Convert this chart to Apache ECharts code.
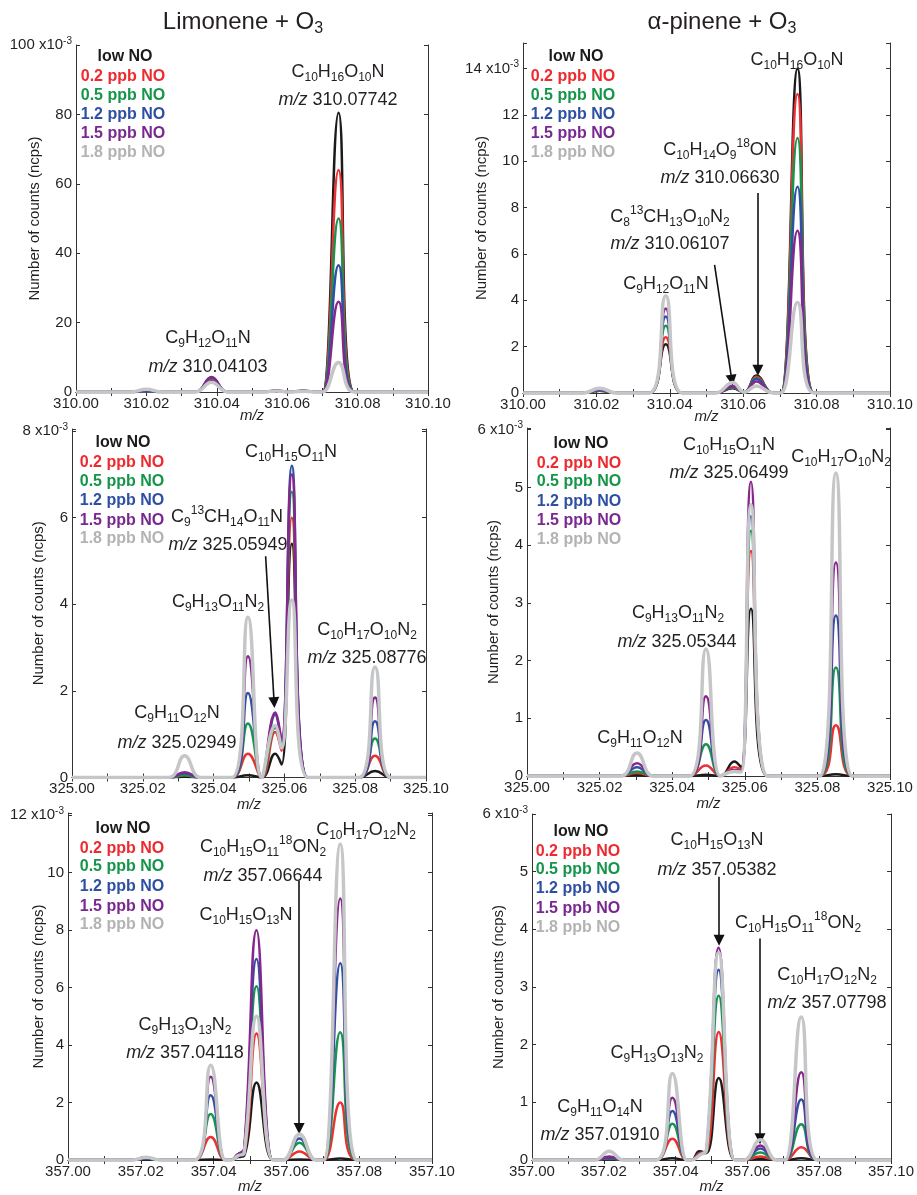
<!DOCTYPE html>
<html><head><meta charset="utf-8">
<script src="https://cdn.jsdelivr.net/npm/echarts@6/dist/echarts.min.js"></script>
<style>html,body{margin:0;padding:0;background:#fff}#c{width:917px;height:1195px}</style>
</head><body><div id="c"></div>
<script>
// ---------------- DATA ----------------
const seriesNames = ['low NO', '0.2 ppb NO', '0.5 ppb NO', '1.2 ppb NO', '1.5 ppb NO', '1.8 ppb NO'];

// Limonene + O3, m/z 310
const mzLim310 = [310.000, 310.0155, 310.0200, 310.0245, 310.0340, 310.0385, 310.0430, 310.0530, 310.0570, 310.0605, 310.0645, 310.0685, 310.0701, 310.0746, 310.0791, 310.100];
const lim310Low  = [0, 0, 0.2, 0, 0, 3.5, 0, 0, 0.2, 0, 0.3, 0, 0, 80.5, 0, 0];
const lim310N02  = [0, 0, 0.2, 0, 0, 3.8, 0, 0, 0.2, 0, 0.3, 0, 0, 64, 0, 0];
const lim310N05  = [0, 0, 0.2, 0, 0, 4.0, 0, 0, 0.3, 0, 0.3, 0, 0, 50, 0, 0];
const lim310N12  = [0, 0, 0.3, 0, 0, 4.2, 0, 0, 0.3, 0, 0.3, 0, 0, 36.5, 0, 0];
const lim310N15  = [0, 0, 0.5, 0, 0, 4.3, 0, 0, 0.5, 0, 0.4, 0, 0, 26, 0, 0];
const lim310N18  = [0, 0, 0.8, 0, 0, 2.8, 0, 0, 0.3, 0, 0.2, 0, 0, 8.5, 0, 0];

// alpha-pinene + O3, m/z 310
const mzPin310 = [310.000, 310.0164, 310.0209, 310.0254, 310.0344, 310.0389, 310.0434, 310.0526, 310.0571, 310.0603, 310.0636, 310.0681, 310.0703, 310.0748, 310.0793, 310.100];
const pin310Low  = [0, 0, 0.10, 0, 0, 2.1, 0, 0, 0.20, 0.03, 0.75, 0, 0, 14.0, 0, 0];
const pin310N02  = [0, 0, 0.10, 0, 0, 2.4, 0, 0, 0.25, 0.03, 0.70, 0, 0, 12.9, 0, 0];
const pin310N05  = [0, 0, 0.10, 0, 0, 2.9, 0, 0, 0.25, 0.03, 0.65, 0, 0, 11.0, 0, 0];
const pin310N12  = [0, 0, 0.12, 0, 0, 3.3, 0, 0, 0.28, 0.03, 0.60, 0, 0, 8.9, 0, 0];
const pin310N15  = [0, 0, 0.15, 0, 0, 3.65, 0, 0, 0.30, 0.03, 0.50, 0, 0, 7.0, 0, 0];
const pin310N18  = [0, 0, 0.20, 0, 0, 4.2, 0, 0, 0.45, 0.03, 0.30, 0, 0, 3.9, 0, 0];

// Limonene + O3, m/z 325
const mzLim325 = [325.000, 325.0273, 325.0318, 325.0363, 325.0452, 325.0497, 325.0536, 325.0574, 325.0592, 325.0621, 325.0666, 325.0811, 325.0856, 325.0901, 325.100];
const lim325Low  = [0, 0, 0.02, 0, 0, 0.05, 0, 0.55, 0.30, 5.4, 0, 0, 0.15, 0, 0];
const lim325N02  = [0, 0, 0.05, 0, 0, 0.55, 0, 1.05, 0.62, 6.0, 0, 0, 0.50, 0, 0];
const lim325N05  = [0, 0, 0.05, 0, 0, 1.25, 0, 1.15, 0.70, 6.6, 0, 0, 0.90, 0, 0];
const lim325N12  = [0, 0, 0.10, 0, 0, 1.95, 0, 1.45, 0.82, 7.2, 0, 0, 1.30, 0, 0];
const lim325N15  = [0, 0, 0.12, 0, 0, 2.80, 0, 1.50, 0.87, 7.0, 0, 0, 1.85, 0, 0];
const lim325N18  = [0, 0, 0.50, 0, 0, 3.70, 0, 1.20, 0.68, 4.1, 0, 0, 2.55, 0, 0];

// alpha-pinene + O3, m/z 325
const mzPin325 = [325.000, 325.0258, 325.0303, 325.0348, 325.0448, 325.0493, 325.0533, 325.0571, 325.0590, 325.0617, 325.0662, 325.0806, 325.0851, 325.0896, 325.100];
const pin325Low  = [0, 0, 0.02, 0, 0, 0.02, 0, 0.25, 0.15, 2.9, 0, 0, 0.03, 0, 0];
const pin325N02  = [0, 0, 0.05, 0, 0, 0.18, 0, 0.15, 0.12, 3.9, 0, 0, 0.88, 0, 0];
const pin325N05  = [0, 0, 0.08, 0, 0, 0.55, 0, 0.10, 0.08, 4.25, 0, 0, 1.88, 0, 0];
const pin325N12  = [0, 0, 0.15, 0, 0, 0.97, 0, 0.10, 0.08, 4.5, 0, 0, 2.78, 0, 0];
const pin325N15  = [0, 0, 0.22, 0, 0, 1.38, 0, 0.10, 0.08, 5.1, 0, 0, 3.70, 0, 0];
const pin325N18  = [0, 0, 0.40, 0, 0, 2.20, 0, 0.08, 0.07, 4.7, 0, 0, 5.25, 0, 0];

// Limonene + O3, m/z 357
const mzLim357 = [357.000, 357.0175, 357.0215, 357.0255, 357.0347, 357.0392, 357.0432, 357.0448, 357.0467, 357.0484, 357.0518, 357.0563, 357.0591, 357.0636, 357.0681, 357.0703, 357.0748, 357.0793, 357.100];
const lim357Low  = [0, 0, 0.03, 0, 0, 0.02, 0, 0, 0.10, 0.15, 2.7, 0, 0, 0.02, 0, 0, 0.05, 0, 0];
const lim357N02  = [0, 0, 0.05, 0, 0, 0.80, 0, 0, 0.20, 0.25, 4.4, 0, 0, 0.30, 0, 0, 2.00, 0, 0];
const lim357N05  = [0, 0, 0.05, 0, 0, 1.60, 0, 0, 0.20, 0.30, 6.05, 0, 0, 0.60, 0, 0, 4.45, 0, 0];
const lim357N12  = [0, 0, 0.05, 0, 0, 2.25, 0, 0, 0.20, 0.35, 7.0, 0, 0, 0.75, 0, 0, 6.85, 0, 0];
const lim357N15  = [0, 0, 0.08, 0, 0, 2.90, 0, 0, 0.20, 0.40, 8.0, 0, 0, 0.90, 0, 0, 9.10, 0, 0];
const lim357N18  = [0, 0, 0.10, 0, 0, 3.30, 0, 0, 0.15, 0.25, 5.0, 0, 0, 0.90, 0, 0, 11.0, 0, 0];

// alpha-pinene + O3, m/z 357
const mzPin357 = [357.000, 357.0175, 357.0215, 357.0255, 357.0346, 357.0391, 357.0431, 357.0445, 357.0466, 357.0486, 357.0520, 357.0565, 357.0591, 357.0636, 357.0681, 357.0705, 357.0750, 357.0795, 357.100];
const pin357Low  = [0, 0, 0.02, 0, 0, 0.03, 0, 0, 0.15, 0.12, 1.42, 0, 0, 0.02, 0, 0, 0.03, 0, 0];
const pin357N02  = [0, 0, 0.03, 0, 0, 0.37, 0, 0, 0.12, 0.14, 2.22, 0, 0, 0.06, 0, 0, 0.22, 0, 0];
const pin357N05  = [0, 0, 0.03, 0, 0, 0.63, 0, 0, 0.10, 0.15, 2.85, 0, 0, 0.13, 0, 0, 0.62, 0, 0];
const pin357N12  = [0, 0, 0.04, 0, 0, 0.85, 0, 0, 0.10, 0.16, 3.3, 0, 0, 0.20, 0, 0, 1.05, 0, 0];
const pin357N15  = [0, 0, 0.06, 0, 0, 1.08, 0, 0, 0.10, 0.17, 3.68, 0, 0, 0.25, 0, 0, 1.52, 0, 0];
const pin357N18  = [0, 0, 0.15, 0, 0, 1.50, 0, 0, 0.08, 0.18, 3.6, 0, 0, 0.35, 0, 0, 2.48, 0, 0];

// Axis tick settings (x10^-3)
const xRanges = [[310, 310.1], [310, 310.1], [325, 325.1], [325, 325.1], [357, 357.1], [357, 357.1]];
const yMaxes = [100, 15.1, 8.05, 6.03, 12.08, 6.0];
const yTopTicks = [100, 14, 8, 6, 12, 6];
const ySteps = [20, 2, 2, 1, 2, 1];

// Peak labels
const annTexts = [
  ['C_10H_16O_10N', 0], ['m/z 310.07742', 0], ['C_9H_12O_11N', 0], ['m/z 310.04103', 0],
  ['C_10H_16O_10N', 1], ['C_10H_14O_9^18ON', 1], ['m/z 310.06630', 1], ['C_8^13CH_13O_10N_2', 1], ['m/z 310.06107', 1], ['C_9H_12O_11N', 1],
  ['C_10H_15O_11N', 2], ['C_9^13CH_14O_11N', 2], ['m/z 325.05949', 2], ['C_9H_13O_11N_2', 2], ['C_10H_17O_10N_2', 2], ['m/z 325.08776', 2], ['C_9H_11O_12N', 2], ['m/z 325.02949', 2],
  ['C_10H_15O_11N', 3], ['m/z 325.06499', 3], ['C_10H_17O_10N_2', 3], ['C_9H_13O_11N_2', 3], ['m/z 325.05344', 3], ['C_9H_11O_12N', 3],
  ['C_10H_17O_12N_2', 4], ['C_10H_15O_11^18ON_2', 4], ['m/z 357.06644', 4], ['C_10H_15O_13N', 4], ['C_9H_13O_13N_2', 4], ['m/z 357.04118', 4],
  ['C_10H_15O_13N', 5], ['m/z 357.05382', 5], ['C_10H_15O_11^18ON_2', 5], ['C_10H_17O_12N_2', 5], ['m/z 357.07798', 5], ['C_9H_13O_13N_2', 5], ['C_9H_11O_14N', 5], ['m/z 357.01910', 5]
];
// Arrows in data coordinates: [panel, x1, y1, x2, y2]
const arrows = [
  [1, 310.0522, 5.53, 310.0569, 0.55],
  [1, 310.0640, 8.63, 310.0640, 0.98],
  [2, 325.0547, 5.11, 325.0571, 1.73],
  [4, 357.0635, 9.72, 357.0635, 1.10],
  [5, 357.0521, 4.91, 357.0521, 3.81],
  [5, 357.0635, 3.84, 357.0635, 0.37]
];
const titles = ['Limonene + O_3', 'α-pinene + O_3'];
const yAxisTitle = 'Number of counts (ncps)';
const xAxisTitle = 'm/z';

// ---------------- LAYOUT / STYLE ----------------
const FONT = "'Liberation Sans', Arial, Helvetica, sans-serif";
const INK = '#231f20';
const lineColors = ['#1b1b1b', '#ee3034', '#17964b', '#3050a5', '#86278d', '#c5c6c8'];
const legendColors = ['#1b1b1b', '#ec2a2f', '#14954a', '#2e4fa4', '#7a2891', '#b3b3b3'];
const lineWidths = [2.5, 2.5, 2.5, 2.5, 2.5, 3.5];

const grids = [
  {left: 76, top: 45, width: 352, height: 347},
  {left: 523, top: 43, width: 367, height: 350},
  {left: 72, top: 429, width: 354, height: 348.5},
  {left: 527, top: 428, width: 363, height: 348},
  {left: 68, top: 813, width: 364, height: 348.5},
  {left: 532, top: 814, width: 364, height: 349}
];
const yNameGaps = [34, 34, 26, 26, 22, 26];
const xNameGaps = [16, 16, 20, 20, 19, 19];
const annPos = [
  [338, 72], [338, 100], [208, 338], [208, 367],
  [797, 60], [720, 150], [720, 178], [670, 217], [670, 244], [666, 284],
  [291, 452], [227, 517], [228, 545], [218, 602], [367, 630], [367, 658], [177, 713], [177, 743],
  [729, 445], [729, 473], [841, 457], [678, 613], [677, 642], [640, 738],
  [366, 830], [263, 847], [263, 876], [246, 915], [185, 1025], [185, 1053],
  [717, 840], [717, 870], [798, 923], [827, 975], [827, 1003], [657, 1053], [600, 1107], [600, 1135]
];
const legendLayout = [
  {xl: 125, xo: 123, ys: [57, 77, 96, 115, 134, 153]},
  {xl: 576, xo: 573, ys: [57, 77, 96, 115, 134, 153]},
  {xl: 123, xo: 122, ys: [443, 463, 482, 501, 521, 539]},
  {xl: 581, xo: 579, ys: [444, 464, 482, 502, 521, 540]},
  {xl: 123, xo: 122, ys: [829, 849, 867, 887, 907, 925]},
  {xl: 581, xo: 578, ys: [832, 852, 870, 889, 909, 928]}
];
const titlePos = [[243, 22], [722, 22]];

const panelData = [
  [mzLim310, [lim310Low, lim310N02, lim310N05, lim310N12, lim310N15, lim310N18]],
  [mzPin310, [pin310Low, pin310N02, pin310N05, pin310N12, pin310N15, pin310N18]],
  [mzLim325, [lim325Low, lim325N02, lim325N05, lim325N12, lim325N15, lim325N18]],
  [mzPin325, [pin325Low, pin325N02, pin325N05, pin325N12, pin325N15, pin325N18]],
  [mzLim357, [lim357Low, lim357N02, lim357N05, lim357N12, lim357N15, lim357N18]],
  [mzPin357, [pin357Low, pin357N02, pin357N05, pin357N12, pin357N15, pin357N18]]
];

function toRich(s) {
  return s.replace(/m\/z/, '{i|m/z}').replace(/_(\d+)/g, '{s|$1}').replace(/\^(\d+)/g, '{p|$1}');
}
function richFor(base, small) {
  return {
    s: {fontSize: small, fontFamily: FONT, fill: INK, verticalAlign: 'bottom', lineHeight: small + 2},
    p: {fontSize: small, fontFamily: FONT, fill: INK, verticalAlign: 'top', lineHeight: small + 2},
    i: {fontSize: base, fontFamily: FONT, fontStyle: 'italic', fill: INK}
  };
}

const option = {
  animation: false,
  backgroundColor: '#fff',
  grid: grids.map(g => Object.assign({containLabel: false}, g)),
  xAxis: [], yAxis: [], series: [], graphic: []
};

grids.forEach((g, i) => {
  const axLine = {show: true, lineStyle: {color: '#333', width: 1}};
  const tick = {show: true, inside: true, length: 4, lineStyle: {color: '#333', width: 1}};
  option.xAxis.push({
    type: 'value', gridIndex: i, position: 'bottom', min: xRanges[i][0], max: xRanges[i][1], interval: 0.01,
    axisLine: axLine, axisTick: tick, splitLine: {show: false},
    axisLabel: {fontSize: 15, fontFamily: FONT, color: INK, margin: 4,
      formatter: v => (Math.round(v * 100) % 2 === 0 ? v.toFixed(2) : '')},
    name: xAxisTitle, nameLocation: 'middle', nameGap: xNameGaps[i], nameMoveOverlap: false,
    nameTextStyle: {fontSize: 15, fontFamily: FONT, fontStyle: 'italic', color: INK, verticalAlign: 'top'}
  });
  option.xAxis.push({
    type: 'value', gridIndex: i, position: 'top', min: xRanges[i][0], max: xRanges[i][1], interval: 0.01,
    axisLine: axLine, axisTick: tick, splitLine: {show: false}, axisLabel: {show: false}
  });
  const top = yTopTicks[i], step = ySteps[i];
  option.yAxis.push({
    type: 'value', gridIndex: i, position: 'left', min: 0, max: yMaxes[i], interval: step,
    axisLine: axLine, axisTick: tick, splitLine: {show: false},
    axisLabel: {fontSize: 15, fontFamily: FONT, color: INK, margin: 4, lineHeight: 18,
      rich: {p: {fontSize: 10, fontFamily: FONT, color: INK, verticalAlign: 'top', lineHeight: 11}},
      formatter: v => {
        if (Math.abs(v - top) < 1e-9) return v + ' x10{p|-3}';
        const r = v / step;
        if (Math.abs(r - Math.round(r)) > 1e-6) return '';
        return String(v);
      }},
    name: yAxisTitle, nameLocation: 'middle', nameGap: yNameGaps[i], nameRotate: 90, nameMoveOverlap: false,
    nameTextStyle: {fontSize: 15, fontFamily: FONT, color: INK}
  });
  option.yAxis.push({
    type: 'value', gridIndex: i, position: 'right', min: 0, max: yMaxes[i], interval: step,
    axisLine: axLine, axisTick: tick, splitLine: {show: false}, axisLabel: {show: false}
  });
  const [xs, ysets] = panelData[i];
  ysets.forEach((ys, k) => {
    const s = {
      type: 'line', name: seriesNames[k], xAxisIndex: 2 * i, yAxisIndex: 2 * i,
      data: xs.map((x, j) => [x, ys[j]]),
      showSymbol: false, symbol: 'none', smooth: 0.45,
      lineStyle: {color: lineColors[k], width: lineWidths[k]},
      itemStyle: {color: lineColors[k]}, z: 2 + k, silent: true
    };
    if (k === 5) {
      const arr = arrows.filter(a => a[0] === i);
      if (arr.length) {
        s.markLine = {
          silent: true, animation: false, symbol: ['none', 'triangle'], symbolSize: 11,
          label: {show: false}, lineStyle: {color: '#111', width: 1.6, type: 'solid'},
          itemStyle: {color: '#111'},
          emphasis: {disabled: true},
          data: arr.map(a => [{coord: [a[1], a[2]]}, {coord: [a[3], a[4]]}])
        };
      }
    }
    option.series.push(s);
  });
  const L = legendLayout[i];
  seriesNames.forEach((nm, k) => {
    option.graphic.push({
      type: 'text', silent: true, z: 100,
      style: {text: nm, x: k === 0 ? L.xl : L.xo, y: L.ys[k], fill: legendColors[k],
        font: 'bold 16px ' + FONT, align: 'center', verticalAlign: 'middle', textAlign: 'center', textVerticalAlign: 'middle'}
    });
  });
});

annTexts.forEach((a, j) => {
  option.graphic.push({
    type: 'text', silent: true, z: 100,
    style: {text: toRich(a[0]), x: annPos[j][0], y: annPos[j][1], fill: INK,
      fontSize: 18, fontFamily: FONT, lineHeight: 24, rich: richFor(18, 12),
      align: 'center', verticalAlign: 'middle', textAlign: 'center', textVerticalAlign: 'middle'}
  });
});
titles.forEach((t, j) => {
  option.graphic.push({
    type: 'text', silent: true, z: 100,
    style: {text: toRich(t), x: titlePos[j][0], y: titlePos[j][1], fill: INK,
      fontSize: 24, fontFamily: FONT, lineHeight: 30, rich: richFor(24, 16),
      align: 'center', verticalAlign: 'middle', textAlign: 'center', textVerticalAlign: 'middle'}
  });
});

const chart = echarts.init(document.getElementById('c'), null, {renderer: 'canvas', width: 917, height: 1195});
chart.setOption(option);
</script></body></html>
